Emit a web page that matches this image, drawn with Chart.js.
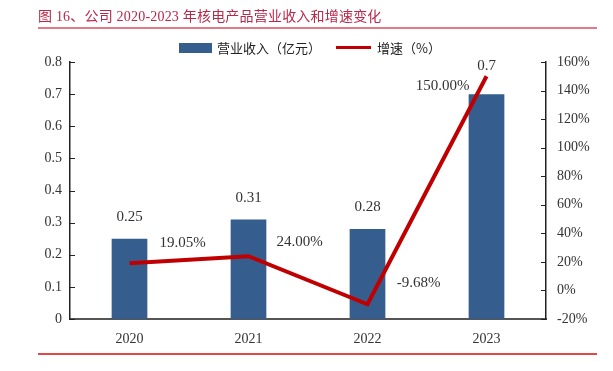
<!DOCTYPE html>
<html>
<head>
<meta charset="utf-8">
<script src="https://cdn.jsdelivr.net/npm/chart.js@4.4.1/dist/chart.umd.min.js"></script>
<style>
  body { margin: 0; width: 613px; height: 371px; overflow: hidden; background: #fff; position: relative;
         font-family: "Liberation Serif", "Noto Sans CJK SC", serif; }
  #title { position: absolute; left: 38px; top: 5px; font-size: 14px; color: #b8284a; white-space: nowrap; letter-spacing: 0.2px; }
  #topRule { position: absolute; left: 38px; top: 27px; width: 559px; height: 2px; background: #e27b87; }
  #footRule { position: absolute; left: 38px; top: 353px; width: 559px; height: 2px; background: #e04848; }
  #foot { position: absolute; left: 44px; top: 368px; font-size: 12px; color: #d0305a; white-space: nowrap; }
  #legend { position: absolute; top: 39px; left: 0; font-size: 13px; color: #222; font-family: "Noto Sans CJK SC", sans-serif; }
  .sw { position: absolute; }
  .lt { position: absolute; white-space: nowrap; top: -1px; }
  #wrap { position: absolute; left: 0; top: 0; }
</style>
</head>
<body>
<div id="wrap"><canvas id="c" width="613" height="371"></canvas></div>
<div id="title">图 16、公司 2020-2023 年核电产品营业收入和增速变化</div>
<div id="topRule"></div>
<div id="legend">
  <div class="sw" style="left:179px;top:4px;width:33px;height:10px;background:#355e8e"></div>
  <div class="lt" style="left:217px">营业收入（亿元）</div>
  <div class="sw" style="left:336px;top:7px;width:35px;height:3px;background:#c00000"></div>
  <div class="lt" style="left:377px">增速（%）</div>
</div>
<div id="footRule"></div>
<div id="foot">资料来源：公司公告，Wind，研究所</div>
<script>
'use strict';

const years = ['2020', '2021', '2022', '2023'];
const revenue = [0.25, 0.31, 0.28, 0.7];
const growth = [19.05, 24.00, -9.68, 150.00];
const revenueLabels = ['0.25', '0.31', '0.28', '0.7'];
const growthLabels = ['19.05%', '24.00%', '-9.68%', '150.00%'];

// label offsets from the mark (px)
const barLabelOffset = [[0, -22], [0, -21], [0, -22], [0, -28]];
const lineLabelOffset = [[53, -20], [51, -14], [51, -21], [-44, 10]];

const textColor = '#333';
const serif = 'Liberation Serif';

const valueLabels = {
  id: 'valueLabels',
  afterDatasetsDraw(chart) {
    const { ctx } = chart;
    ctx.save();
    ctx.font = `15px "${serif}"`;
    ctx.fillStyle = textColor;
    ctx.textAlign = 'center';
    ctx.textBaseline = 'middle';
    chart.getDatasetMeta(0).data.forEach((bar, i) => {
      ctx.fillText(revenueLabels[i], bar.x + barLabelOffset[i][0], bar.y + barLabelOffset[i][1]);
    });
    chart.getDatasetMeta(1).data.forEach((pt, i) => {
      ctx.fillText(growthLabels[i], pt.x + lineLabelOffset[i][0], pt.y + lineLabelOffset[i][1]);
    });
    ctx.restore();
  }
};

// small inward tick marks on both value axes
const tickMarks = {
  id: 'tickMarks',
  afterDraw(chart) {
    const { ctx, scales: { y, y1 } } = chart;
    ctx.save();
    ctx.strokeStyle = '#222';
    ctx.lineWidth = 1;
    y.ticks.forEach(t => {
      const py = Math.round(y.getPixelForValue(t.value)) + 0.5;
      ctx.beginPath();
      ctx.moveTo(y.right, py);
      ctx.lineTo(y.right + 5, py);
      ctx.stroke();
    });
    y1.ticks.forEach(t => {
      const py = Math.round(y1.getPixelForValue(t.value)) + 0.5;
      ctx.beginPath();
      ctx.moveTo(y1.left, py);
      ctx.lineTo(y1.left - 5, py);
      ctx.stroke();
    });
    ctx.restore();
  }
};

new Chart(document.getElementById('c'), {
  data: {
    labels: years,
    datasets: [
      {
        type: 'bar',
        label: '营业收入（亿元）',
        data: revenue,
        backgroundColor: '#355e8e',
        barPercentage: 0.3,
        categoryPercentage: 1,
        yAxisID: 'y',
        order: 1,
      },
      {
        type: 'line',
        label: '增速（%）',
        data: growth,
        borderColor: '#c00000',
        borderWidth: 4,
        pointRadius: 0,
        tension: 0,
        yAxisID: 'y1',
        order: 0,
      },
    ],
  },
  options: {
    responsive: false,
    animation: false,
    devicePixelRatio: 1,
    layout: { padding: { top: 62, bottom: 20, left: 0, right: 0 } },
    plugins: {
      legend: { display: false },
      tooltip: { enabled: false },
    },
    scales: {
      x: {
        grid: { display: false, drawTicks: false },
        border: { display: true, color: '#555', width: 2 },
        ticks: { color: textColor, font: { family: serif, size: 14 }, padding: 12 },
        afterFit: s => { s.height = 32; },
      },
      y: {
        position: 'left',
        min: 0,
        max: 0.8,
        grid: { display: false, drawTicks: false },
        border: { display: true, color: '#222', width: 1.5 },
        ticks: {
          stepSize: 0.1,
          color: textColor,
          font: { family: serif, size: 14 },
          padding: 8,
          callback: v => String(Number(v.toFixed(1))),
        },
        afterFit: s => { s.width = 70; },
      },
      y1: {
        position: 'right',
        min: -20,
        max: 160,
        grid: { display: false, drawTicks: false },
        border: { display: true, color: '#222', width: 1.5 },
        ticks: {
          stepSize: 20,
          color: textColor,
          font: { family: serif, size: 14 },
          padding: 11,
          callback: v => `${v}%`,
        },
        afterFit: s => { s.width = 67; },
      },
    },
  },
  plugins: [valueLabels, tickMarks],
});
</script>
</body>
</html>
